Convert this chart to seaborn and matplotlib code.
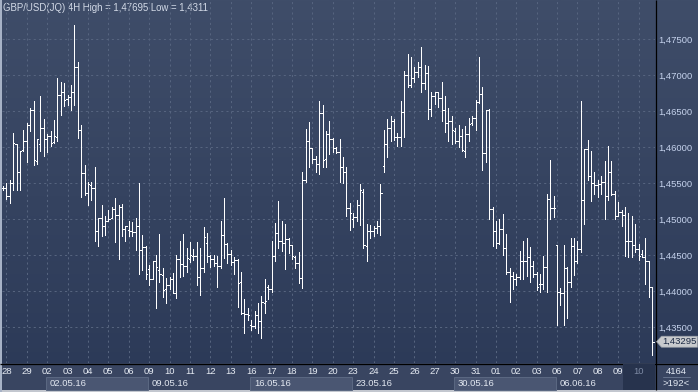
import numpy as np
import pandas as pd
import matplotlib
matplotlib.use("Agg")
import matplotlib.pyplot as plt
import matplotlib.transforms as mtransforms
from matplotlib.patches import Rectangle, Polygon
from matplotlib.colors import LinearSegmentedColormap
import seaborn as sns

# ---------------- data (GBP/USD 4H bars) ----------------
opens = [1.4543, 1.4543, 1.4532, 1.4550, 1.4605, 1.4565, 1.4596, 1.4609, 1.4631, 1.4651,
         1.4581, 1.4604, 1.4626, 1.4612, 1.4615, 1.4607, 1.4614, 1.4673, 1.4677, 1.4667,
         1.4670, 1.4677, 1.4711, 1.4624, 1.4564, 1.4536, 1.4548, 1.4543, 1.4484, 1.4501,
         1.4491, 1.4498, 1.4501, 1.4514, 1.4506, 1.4517, 1.4486, 1.4485, 1.4483, 1.4482,
         1.4490, 1.4457, 1.4461, 1.4430, 1.4417, 1.4442, 1.4429, 1.4422, 1.4403, 1.4408,
         1.4416, 1.4397, 1.4444, 1.4437, 1.4435, 1.4444, 1.4449, 1.4448, 1.4420, 1.4432,
         1.4467, 1.4448, 1.4444, 1.4439, 1.4435, 1.4478, 1.4465, 1.4451, 1.4441, 1.4443,
         1.4413, 1.4369, 1.4368, 1.4353, 1.4351, 1.4366, 1.4358, 1.4384, 1.4406, 1.4403,
         1.4448, 1.4480, 1.4470, 1.4467, 1.4472, 1.4464, 1.4447, 1.4439, 1.4418, 1.4554,
         1.4608, 1.4599, 1.4583, 1.4576, 1.4647, 1.4583, 1.4618, 1.4612, 1.4599, 1.4593,
         1.4573, 1.4565, 1.4515, 1.4500, 1.4503, 1.4520, 1.4537, 1.4463, 1.4484, 1.4484,
         1.4488, 1.4490, 1.4574, 1.4605, 1.4626, 1.4636, 1.4614, 1.4614, 1.4649, 1.4701,
         1.4686, 1.4696, 1.4705, 1.4711, 1.4689, 1.4703, 1.4653, 1.4671, 1.4676, 1.4669,
         1.4652, 1.4633, 1.4637, 1.4623, 1.4609, 1.4616, 1.4595, 1.4618, 1.4634, 1.4640,
         1.4663, 1.4674, 1.4592, 1.4652, 1.4514, 1.4483, 1.4467, 1.4486, 1.4460, 1.4426,
         1.4421, 1.4417, 1.4420, 1.4442, 1.4442, 1.4447, 1.4435, 1.4424, 1.4410, 1.4410,
         1.4433, 1.4528, 1.4516, 1.4464, 1.4398, 1.4397, 1.4432, 1.4412, 1.4463, 1.4442,
         1.4458, 1.4526, 1.4597, 1.4560, 1.4550, 1.4547, 1.4549, 1.4551, 1.4532, 1.4565,
         1.4535, 1.4504, 1.4510, 1.4505, 1.4470, 1.4470, 1.4464, 1.4458, 1.4452, 1.4447,
         1.4442, 1.4405]
highs = [1.4546, 1.4550, 1.4555, 1.4619, 1.4605, 1.4594, 1.4624, 1.4634, 1.4655, 1.4664,
         1.4612, 1.4671, 1.4639, 1.4618, 1.4623, 1.4638, 1.4696, 1.4690, 1.4689, 1.4673,
         1.4687, 1.47695, 1.4718, 1.4631, 1.4575, 1.4552, 1.4552, 1.4573, 1.4501, 1.4520,
         1.4504, 1.4512, 1.4517, 1.4529, 1.4520, 1.4521, 1.4491, 1.4497, 1.4496, 1.4501,
         1.4550, 1.4478, 1.4462, 1.4436, 1.4442, 1.4450, 1.4479, 1.4432, 1.4418, 1.4419,
         1.4425, 1.4450, 1.4469, 1.4479, 1.4460, 1.4468, 1.4458, 1.4468, 1.4460, 1.4489,
         1.4480, 1.4450, 1.4450, 1.4448, 1.4498, 1.4530, 1.4467, 1.4457, 1.4447, 1.4444,
         1.4426, 1.4389, 1.4376, 1.4359, 1.4372, 1.4383, 1.4393, 1.4416, 1.4409, 1.4470,
         1.4494, 1.4525, 1.4498, 1.4493, 1.4473, 1.4464, 1.4449, 1.4454, 1.4565, 1.4625,
         1.4635, 1.4599, 1.4588, 1.4664, 1.4659, 1.4622, 1.4637, 1.4613, 1.4600, 1.4612,
         1.4586, 1.4572, 1.4523, 1.4508, 1.4526, 1.4549, 1.4542, 1.4493, 1.4492, 1.4490,
         1.4498, 1.4549, 1.4624, 1.4639, 1.4644, 1.4639, 1.4619, 1.4664, 1.4706, 1.4730,
         1.4725, 1.4711, 1.4718, 1.4739, 1.4714, 1.4713, 1.4677, 1.4677, 1.4677, 1.4691,
         1.4671, 1.4654, 1.4644, 1.4626, 1.4631, 1.4625, 1.4629, 1.4641, 1.4643, 1.4666,
         1.4726, 1.4684, 1.4652, 1.4653, 1.4517, 1.4497, 1.4500, 1.4507, 1.4479, 1.4432,
         1.4426, 1.4423, 1.4455, 1.4469, 1.4473, 1.4461, 1.4442, 1.4427, 1.4423, 1.4449,
         1.4535, 1.4582, 1.4532, 1.4464, 1.4404, 1.4464, 1.4434, 1.4473, 1.4473, 1.4469,
         1.4664, 1.4598, 1.4610, 1.4595, 1.4566, 1.4554, 1.4560, 1.4581, 1.4602, 1.4581,
         1.4539, 1.4524, 1.4513, 1.4517, 1.4508, 1.4504, 1.4493, 1.4466, 1.4457, 1.4473,
         1.4442, 1.4406]
lows = [1.4540, 1.4528, 1.4523, 1.4541, 1.4541, 1.4541, 1.4594, 1.4579, 1.4623, 1.4575,
        1.4577, 1.4594, 1.4588, 1.4593, 1.4602, 1.4606, 1.4608, 1.4645, 1.4657, 1.4659,
        1.4652, 1.4659, 1.4613, 1.4531, 1.4533, 1.4520, 1.4527, 1.4470, 1.4462, 1.4476,
        1.4478, 1.4497, 1.4501, 1.4468, 1.4444, 1.4476, 1.4469, 1.4476, 1.4477, 1.4457,
        1.4423, 1.4429, 1.4416, 1.4408, 1.4416, 1.4376, 1.4412, 1.4392, 1.4384, 1.4403,
        1.4397, 1.4390, 1.4419, 1.4421, 1.4426, 1.4440, 1.4443, 1.4409, 1.4395, 1.4426,
        1.4440, 1.4434, 1.4435, 1.4406, 1.4432, 1.4446, 1.4439, 1.4436, 1.4423, 1.4378,
        1.4368, 1.4341, 1.4359, 1.4346, 1.4348, 1.4342, 1.4334, 1.4369, 1.4389, 1.4398,
        1.4442, 1.4460, 1.4455, 1.4431, 1.4453, 1.4444, 1.4432, 1.4411, 1.4404, 1.4551,
        1.4573, 1.4578, 1.4565, 1.4562, 1.4572, 1.4572, 1.4591, 1.4593, 1.4592, 1.4551,
        1.4550, 1.4504, 1.4485, 1.4489, 1.4498, 1.4492, 1.4460, 1.4442, 1.4474, 1.4476,
        1.4480, 1.4478, 1.4565, 1.4586, 1.4609, 1.4610, 1.4602, 1.4601, 1.4614, 1.4683,
        1.4684, 1.4691, 1.4698, 1.4676, 1.4681, 1.4639, 1.4644, 1.4660, 1.4656, 1.4637,
        1.4621, 1.4608, 1.4605, 1.4606, 1.4600, 1.4594, 1.4587, 1.4608, 1.4631, 1.4624,
        1.4662, 1.4568, 1.4580, 1.4500, 1.4463, 1.4460, 1.4466, 1.4450, 1.4423, 1.4385,
        1.4403, 1.4409, 1.4416, 1.4416, 1.4421, 1.4412, 1.4419, 1.4402, 1.4399, 1.4403,
        1.4398, 1.4500, 1.4503, 1.4353, 1.4380, 1.4353, 1.4363, 1.4406, 1.4422, 1.4439,
        1.4454, 1.4493, 1.4555, 1.4525, 1.4535, 1.4531, 1.4535, 1.4500, 1.4527, 1.4533,
        1.4500, 1.4504, 1.4491, 1.4449, 1.4447, 1.4447, 1.4454, 1.4443, 1.4447, 1.4410,
        1.4392, 1.4311]
closes = [1.4543, 1.4532, 1.4550, 1.4606, 1.4565, 1.4594, 1.4609, 1.4631, 1.4651, 1.4582,
          1.4612, 1.4626, 1.4612, 1.4616, 1.4606, 1.4615, 1.4673, 1.4677, 1.4666, 1.4670,
          1.4677, 1.4711, 1.4624, 1.4564, 1.4536, 1.4549, 1.4543, 1.4484, 1.4501, 1.4491,
          1.4497, 1.4500, 1.4514, 1.4506, 1.4517, 1.4486, 1.4490, 1.4483, 1.4482, 1.4490,
          1.4457, 1.4461, 1.4423, 1.4417, 1.4442, 1.4433, 1.4423, 1.4401, 1.4408, 1.4416,
          1.4397, 1.4444, 1.4437, 1.4435, 1.4446, 1.4450, 1.4448, 1.4420, 1.4432, 1.4475,
          1.4448, 1.4444, 1.4439, 1.4435, 1.4478, 1.4465, 1.4451, 1.4441, 1.4443, 1.4411,
          1.4369, 1.4368, 1.4367, 1.4351, 1.4366, 1.4358, 1.4385, 1.4386, 1.4403, 1.4448,
          1.4481, 1.4470, 1.4467, 1.4472, 1.4464, 1.4448, 1.4439, 1.4418, 1.4554, 1.4608,
          1.4599, 1.4583, 1.4576, 1.4647, 1.4582, 1.4618, 1.4612, 1.4599, 1.4593, 1.4573,
          1.4565, 1.4515, 1.4509, 1.4503, 1.4520, 1.4540, 1.4464, 1.4483, 1.4484, 1.4488,
          1.4490, 1.4536, 1.4605, 1.4626, 1.4637, 1.4614, 1.4614, 1.4649, 1.4701, 1.4686,
          1.4696, 1.4705, 1.4711, 1.4689, 1.4703, 1.4653, 1.4671, 1.4676, 1.4669, 1.4652,
          1.4633, 1.4637, 1.4624, 1.4609, 1.4616, 1.4596, 1.4618, 1.4632, 1.4640, 1.4663,
          1.4674, 1.4592, 1.4652, 1.4514, 1.4483, 1.4467, 1.4486, 1.4460, 1.4426, 1.4421,
          1.4417, 1.4420, 1.4442, 1.4442, 1.4447, 1.4435, 1.4424, 1.4405, 1.4410, 1.4433,
          1.4528, 1.4516, 1.4515, 1.4398, 1.4397, 1.4432, 1.4412, 1.4463, 1.4442, 1.4458,
          1.4526, 1.4597, 1.4560, 1.4550, 1.4547, 1.4549, 1.4551, 1.4532, 1.4565, 1.4535,
          1.4504, 1.4510, 1.4505, 1.4470, 1.4470, 1.4464, 1.4458, 1.4449, 1.4447, 1.4442,
          1.4405, 1.43295]

day_labels = ["28", "29", "02", "03", "04", "05", "06", "09", "10", "11", "12", "13",
              "16", "17", "18", "19", "20", "23", "24", "25", "26", "27", "30", "31",
              "01", "02", "03", "06", "07", "08", "09", "10"]
week_labels = ["02.05.16", "09.05.16", "16.05.16", "23.05.16", "30.05.16", "06.06.16"]
week_first_day = [2, 7, 12, 17, 22, 27]
price_ticks = [1.435, 1.440, 1.445, 1.450, 1.455, 1.460, 1.465, 1.470, 1.475]
bars_per_day = 6
first_day_bar = 1
title = "GBP/USD(JQ) 4H High = 1,47695 Low = 1,4311"
corner_top = "4164"
corner_bottom = ">192<"

df = pd.DataFrame({"open": opens, "high": highs, "low": lows, "close": closes})
df["bar"] = np.arange(len(df))
day_pos = [first_day_bar + bars_per_day * k for k in range(len(day_labels))]

# ---------------- style ----------------
sns.set_theme(style="dark")
plt.rcParams["font.family"] = ["Liberation Sans", "DejaVu Sans"]

W, H = 698, 392
fig = plt.figure(figsize=(W / 100, H / 100), dpi=100)

# full-figure background (pixel coordinates)
bg = fig.add_axes([0, 0, 1, 1])
grad = np.linspace(0, 1, 256).reshape(-1, 1)
cmap = LinearSegmentedColormap.from_list("bg", ["#3f4d69", "#2b3957"])
bg.imshow(grad, extent=[0, W, H, 0], aspect="auto", cmap=cmap, interpolation="bilinear", zorder=0)
bg.set_xlim(0, W)
bg.set_ylim(H, 0)
bg.axis("off")
bg.add_patch(Rectangle((0, 363), W, 29, facecolor="#394561", edgecolor="none", zorder=1))
bg.add_patch(Rectangle((0, 389.5), W, 3, facecolor="#c3c7cf", edgecolor="none", zorder=3))
bg.add_patch(Rectangle((0, 0), 1.6, H, facecolor="#a7b2c6", edgecolor="none", zorder=3))
bg.plot([655.5, 655.5], [0, 390], color="black", lw=0.9, zorder=4, solid_capstyle="butt")
bg.plot([0, W], [363.5, 363.5], color="black", lw=0.9, zorder=4, solid_capstyle="butt")
bg.text(3, 2.5, title, ha="left", va="top", fontsize=6.9, color="#d3dae7", zorder=5)
bg.text(676.5, 371, corner_top, ha="center", va="center", fontsize=6.8, color="#e4eaf4", zorder=5)
bg.plot([663, 690], [377, 377], color="#66738d", lw=0.7, zorder=5)
bg.text(676.5, 383, corner_bottom, ha="center", va="center", fontsize=6.8, color="#e4eaf4", zorder=5)

# main price axes
px_left, px_right, px_top, px_bottom = 2, 655, 0, 363
ax = fig.add_axes([px_left / W, (H - px_bottom) / H, (px_right - px_left) / W, (px_bottom - px_top) / H])
ax.set_facecolor("none")
ax.patch.set_alpha(0)
ax.set_xlim(-0.29, 191.8)
ax.set_ylim(1.42999, 1.48046)
for s in ax.spines.values():
    s.set_visible(False)

ax.set_axisbelow(True)
ax.grid(True, color="#56647f", linestyle=(0, (2, 3)), linewidth=0.75)

# OHLC bars
lw = 0.72
ax.vlines(df["bar"], df["low"], df["high"], colors="white", linewidth=lw, antialiased=False, zorder=3)
ax.hlines(df["open"], df["bar"] - 0.36, df["bar"], colors="white", linewidth=lw, antialiased=False, zorder=3)
ax.hlines(df["close"], df["bar"], df["bar"] + 0.36, colors="white", linewidth=lw, antialiased=False, zorder=3)

# y axis on the right
ax.yaxis.tick_right()
ax.set_yticks(price_ticks)
ax.set_yticklabels([f"{p:.5f}".replace(".", ",") for p in price_ticks])
ax.tick_params(axis="y", length=0, pad=2.6, labelsize=6.8, labelcolor="#c5d2ec")

# x axis: day labels
ax.set_xticks(day_pos)
ax.set_xticklabels(day_labels)
ax.tick_params(axis="x", length=0, pad=3.2, labelsize=6.8, labelcolor="#e6ebf3")
ax.get_xticklabels()[-1].set_color("#7d8aa4")

# week boxes
trans = mtransforms.blended_transform_factory(ax.transData, ax.transAxes)
y0 = -(390 - 363) / 363
y1 = -(377 - 363) / 363
for j, (lab, d) in enumerate(zip(week_labels, week_first_day)):
    x0 = day_pos[d] - 0.2
    if j % 2 == 0:
        ax.add_patch(Rectangle((x0, y0), bars_per_day * 5, y1 - y0, transform=trans, clip_on=False,
                               facecolor="#4a5672", edgecolor="#5b6882", linewidth=0.7, zorder=1))
    ax.text(x0 + 1.0, (y0 + y1) / 2, lab, transform=trans, ha="left", va="center",
            fontsize=6.8, color="#e3e8f1", clip_on=False, zorder=2)

# current-day highlight in the time strip
ax.add_patch(Rectangle((day_pos[-1] - 4.7, -(390 - 363) / 363), 191.8 - (day_pos[-1] - 4.7), (390 - 363.5) / 363,
                       transform=trans, clip_on=False, facecolor="#27334d", edgecolor="none", zorder=0.5))

# last price marker
last = df["close"].iloc[-1]
ylo, yhi = ax.get_ylim()
hh = 5.5 * (yhi - ylo) / 363
tr2 = mtransforms.blended_transform_factory(ax.transAxes, ax.transData)
xa = (656.5 - px_left) / (px_right - px_left)
xb = (661.5 - px_left) / (px_right - px_left)
xc = (697.5 - px_left) / (px_right - px_left)
ax.add_patch(Polygon([(xa, last), (xb, last + hh), (xc, last + hh), (xc, last - hh), (xb, last - hh)],
                     closed=True, transform=tr2, clip_on=False, facecolor="#c8cacd", edgecolor="#9aa0a8",
                     linewidth=0.5, zorder=6))
ax.text((662 - px_left) / (px_right - px_left), last, f"{last:.5f}".replace(".", ","), transform=tr2,
        ha="left", va="center", fontsize=6.8, color="#1c2a44", clip_on=False, zorder=7)

ax.set_xlabel("")
ax.set_ylabel("")
fig.savefig("out.png", dpi=100)
